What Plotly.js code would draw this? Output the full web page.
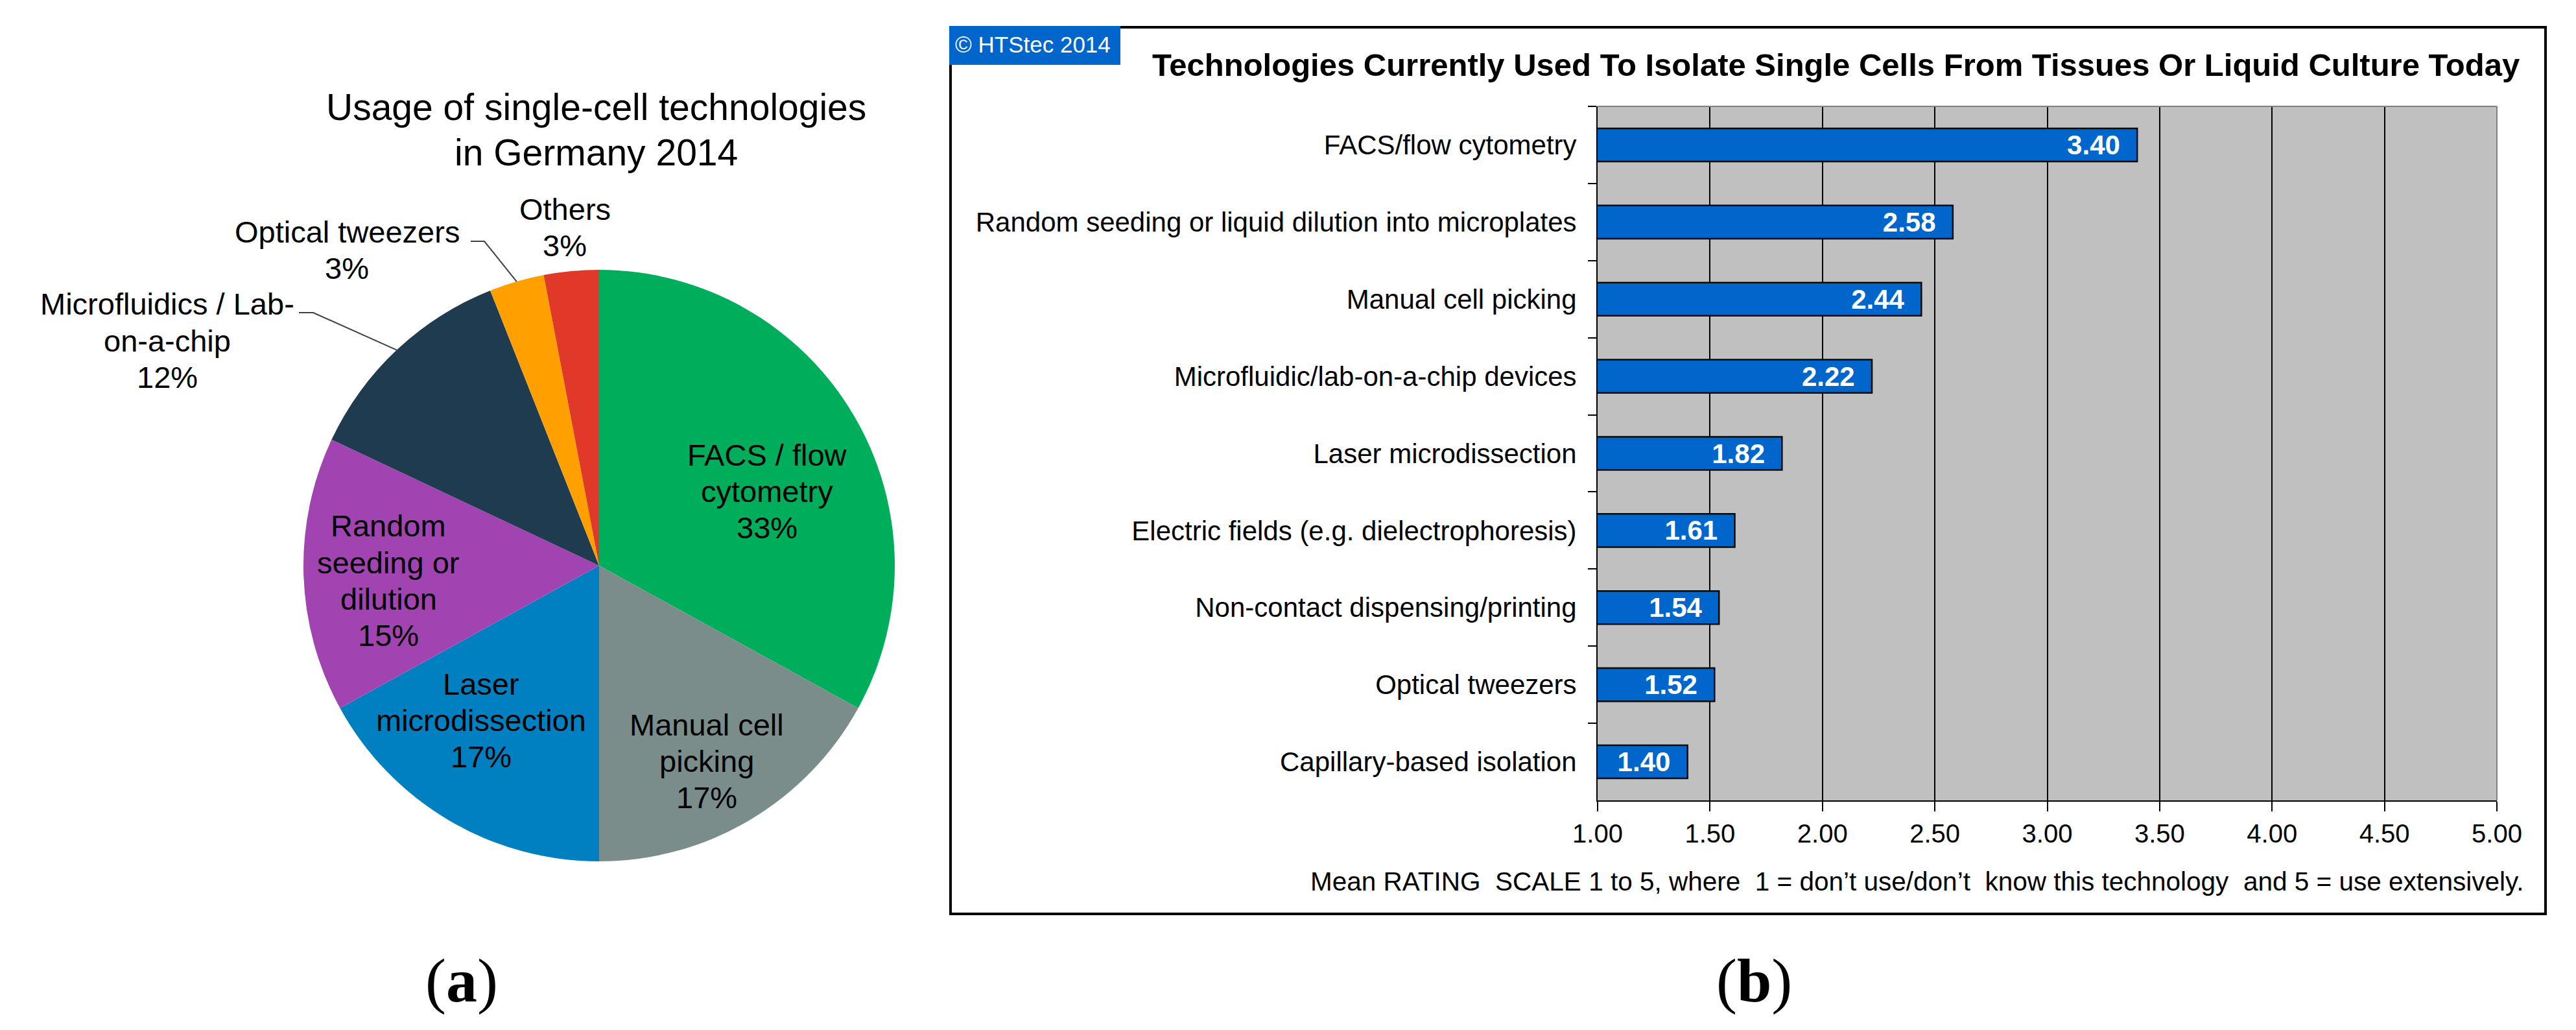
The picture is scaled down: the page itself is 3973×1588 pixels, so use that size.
<!DOCTYPE html>
<html><head><meta charset="utf-8">
<script src="https://cdn.plot.ly/plotly-3.0.1.min.js"></script>
<style>html,body{margin:0;padding:0;background:#fff;overflow:hidden}</style>
</head><body><div id="chart" style="width:3973px;height:1588px"></div>
<script>
// ---------------- data ----------------
const pieLabels = ['FACS / flow cytometry','Manual cell picking','Laser microdissection','Random seeding or dilution','Microfluidics / Lab-on-a-chip','Optical tweezers','Others'];
const pieValues = [33, 17, 17, 15, 12, 3, 3];
const pieLabelLines = [['FACS / flow','cytometry'],['Manual cell','picking'],['Laser','microdissection'],['Random','seeding or','dilution'],['Microfluidics / Lab-','on-a-chip'],['Optical tweezers'],['Others']];
const pieTitle = 'Usage of single-cell technologies<br>in Germany 2014';

const barCategories = ['FACS/flow cytometry','Random seeding or liquid dilution into microplates','Manual cell picking','Microfluidic/lab-on-a-chip devices','Laser microdissection','Electric fields (e.g. dielectrophoresis)','Non-contact dispensing/printing','Optical tweezers','Capillary-based isolation'];
const barValues = [3.40, 2.58, 2.44, 2.22, 1.82, 1.61, 1.54, 1.52, 1.40];
const xTickVals = [1.00, 1.50, 2.00, 2.50, 3.00, 3.50, 4.00, 4.50, 5.00];
const barTitle = 'Technologies Currently Used To Isolate Single Cells From Tissues Or Liquid Culture Today';
const barNote = 'Mean RATING\u00a0 SCALE 1 to 5, where\u00a0 1 = don\u2019t use/don\u2019t\u00a0 know this technology\u00a0 and 5 = use extensively.';
const copyright = '\u00a9 HTStec 2014';

// ---------------- styles / layout constants ----------------
const W = 3973, H = 1588;
const px = x => x / W, py = y => 1 - y / H;
const SANS = 'Liberation Sans, Arial, sans-serif';
const pieColors = ['#00ad5b','#7b8d8a','#0080c0','#a144b1','#1f3b4f','#ffa000','#e0392a'];
const PIE_CX = 924, PIE_CY = 872, PIE_R = 456;
const pieLabelPos = [[1183,758],[1090,1173],[742,1110],[599,895],[258,525],[535,385],[871,350]];
const leaderStart = {4: [[461,482],[483,482]], 5: [[726,372],[747,372]]};

const annotations = [];
const shapes = [];

function addLines(lines, cx, cy, size, spacing, extra) {
  const n = lines.length;
  lines.forEach((t, k) => {
    annotations.push(Object.assign({
      text: t, xref: 'paper', yref: 'paper', x: px(cx), y: py(cy - (n - 1) / 2 * spacing + k * spacing),
      xanchor: 'center', yanchor: 'middle', showarrow: false,
      font: {family: SANS, size: size, color: '#000'}
    }, extra || {}));
  });
}

// pie labels
const total = pieValues.reduce((a, b) => a + b, 0);
pieValues.forEach((v, i) => {
  const pct = Math.round(v / total * 100) + '%';
  const lines = pieLabelLines[i].concat([pct]);
  addLines(lines, pieLabelPos[i][0], pieLabelPos[i][1], 47, 56);
});
// pie title
addLines(pieTitle.split('<br>'), 919, 200, 57, 69);

// leader lines computed from slice mid angles
function sliceEdge(i) {
  let cum = 0;
  for (let j = 0; j < i; j++) cum += pieValues[j];
  const a = (cum + pieValues[i] / 2) / total * 2 * Math.PI;
  return [PIE_CX + PIE_R * Math.sin(a), PIE_CY - PIE_R * Math.cos(a)];
}
Object.keys(leaderStart).forEach(k => {
  const i = +k, s = leaderStart[k], t = sliceEdge(i);
  shapes.push({type: 'path', xref: 'paper', yref: 'paper', layer: 'above',
    path: 'M' + px(s[0][0]) + ',' + py(s[0][1]) + ' L' + px(s[1][0]) + ',' + py(s[1][1]) + ' L' + px(t[0]) + ',' + py(t[1]),
    line: {color: '#404040', width: 2}});
});

// panel b frame
const PL = 2464, PR = 3851, PT = 164, PB = 1234;
shapes.push({type: 'rect', xref: 'paper', yref: 'paper', x0: px(1466), x1: px(3926), y0: py(1409), y1: py(42),
  line: {color: '#000', width: 4}, fillcolor: 'rgba(0,0,0,0)', layer: 'below'});
shapes.push({type: 'rect', xref: 'paper', yref: 'paper', x0: px(1464), x1: px(1728), y0: py(100), y1: py(40),
  line: {width: 0}, fillcolor: '#0066cc', layer: 'above'});
shapes.push({type: 'line', xref: 'paper', yref: 'paper', x0: px(PL), x1: px(PR), y0: py(PT), y1: py(PT),
  line: {color: '#808080', width: 2}, layer: 'above'});
shapes.push({type: 'line', xref: 'paper', yref: 'paper', x0: px(PR), x1: px(PR), y0: py(PT), y1: py(PB),
  line: {color: '#808080', width: 2}, layer: 'above'});

annotations.push({text: copyright, xref: 'paper', yref: 'paper', x: px(1471), y: py(68), xanchor: 'left', yanchor: 'middle',
  showarrow: false, font: {family: SANS, size: 35, color: '#fff'}});
annotations.push({text: barTitle, xref: 'paper', yref: 'paper', x: px(2831), y: py(100), xanchor: 'center', yanchor: 'middle',
  showarrow: false, font: {family: SANS, size: 49, color: '#000', weight: 'bold'}});
annotations.push({text: barNote, xref: 'paper', yref: 'paper', x: px(3895), y: py(1359), xanchor: 'right', yanchor: 'middle',
  showarrow: false, font: {family: SANS, size: 40.5, color: '#000'}});

// panel letters
const SERIF = 'Liberation Serif, Times New Roman, serif';
annotations.push({text: '(<b>a</b>)', xref: 'paper', yref: 'paper', x: px(712), y: py(1511), xanchor: 'center', yanchor: 'middle',
  showarrow: false, font: {family: SERIF, size: 96, color: '#000'}});
annotations.push({text: '(<b>b</b>)', xref: 'paper', yref: 'paper', x: px(2705), y: py(1511), xanchor: 'center', yanchor: 'middle',
  showarrow: false, font: {family: SERIF, size: 96, color: '#000'}});

const traces = [
  {
    type: 'pie', labels: pieLabels, values: pieValues, sort: false, direction: 'clockwise', rotation: 0,
    marker: {colors: pieColors, line: {width: 0}}, textinfo: 'none', hoverinfo: 'label+percent',
    domain: {x: [px(PIE_CX - PIE_R), px(PIE_CX + PIE_R)], y: [py(PIE_CY + PIE_R), py(PIE_CY - PIE_R)]},
    showlegend: false
  },
  {
    type: 'bar', orientation: 'h', x: barValues, y: barCategories,
    marker: {color: '#0066cc', line: {color: '#0a0a0a', width: 2.5}},
    texttemplate: '%{x:.2f}\u00a0\u00a0', textposition: 'inside', insidetextanchor: 'end',
    textangle: 0, constraintext: 'none',
    textfont: {family: SANS, size: 42, color: '#fff', weight: 'bold'},
    hoverinfo: 'x+y', showlegend: false, cliponaxis: true
  }
];

const layout = {
  width: W, height: H, margin: {l: 0, r: 0, t: 0, b: 0, pad: 0},
  paper_bgcolor: '#fff', plot_bgcolor: '#c0c0c0', showlegend: false,
  bargap: 0.57,
  xaxis: {
    domain: [px(PL), px(PR)], range: [1, 5], tickvals: xTickVals, tickformat: '.2f',
    showgrid: true, gridcolor: '#000', gridwidth: 2, zeroline: false,
    showline: true, linecolor: '#000', linewidth: 2,
    ticks: 'outside', ticklen: 15, tickwidth: 2, tickcolor: '#000',
    tickfont: {family: SANS, size: 40, color: '#000'}, fixedrange: true
  },
  yaxis: {
    domain: [py(PB), py(PT)], type: 'category', autorange: 'reversed',
    showgrid: false, zeroline: false, showline: true, linecolor: '#000', linewidth: 2,
    ticks: 'outside', tickson: 'boundaries', ticklen: 13, tickwidth: 2, tickcolor: '#000',
    ticklabelstandoff: 22,
    tickfont: {family: SANS, size: 42, color: '#000'}, fixedrange: true
  },
  annotations: annotations, shapes: shapes
};

Plotly.newPlot('chart', traces, layout, {displayModeBar: false, staticPlot: true});
</script>
</body></html>
